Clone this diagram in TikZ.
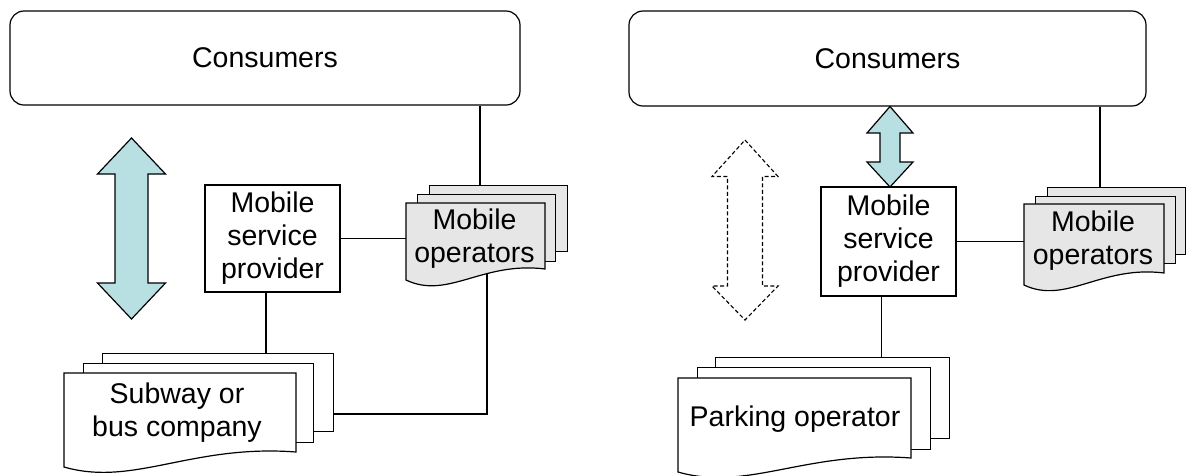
\documentclass[tikz,border=0pt]{standalone}
\usepackage{fontspec}
\setmainfont{Liberation Sans}
\usetikzlibrary{calc}
\pgfdeclarelayer{bg}
\pgfsetlayers{bg,main}
\definecolor{arrowfill}{HTML}{B8E0E3}
\definecolor{opfill}{HTML}{E6E6E6}
\newcommand\frontsheet[6]{%
 \pgfmathsetmacro\fsa{#1+0.55*(#3-#1)}%
 \pgfmathsetmacro\fsb{#1+0.3*(#3-#1)}%
 \pgfmathsetmacro\fsc{#4-8}%
 \pgfmathsetmacro\fsd{#5+20}%
 \filldraw[sheet, fill=#6] (#1,#2) -- (#3,#2) -- (#3,#4) .. controls (\fsa,\fsc) and (\fsb,\fsd) .. (#1,#5) -- cycle;}
\tikzset{
  sheet/.style={line width=1.2pt, draw=black, line join=miter},
  txt/.style={font=\fontsize{28.5pt}{33pt}\selectfont, align=center, inner sep=0pt},
  box/.style={sheet, txt, fill=white, rectangle},
  cons/.style={box, rounded corners=14pt},
  backsheet/.style={sheet, rectangle, inner sep=0pt, anchor=north west},
  link/.style={line width=1.2pt, draw=black},
  blockarrow/.style={line width=1.2pt, draw=black, fill=arrowfill, line join=miter},
  dasharrow/.style={line width=1.1pt, draw=black, fill=white, dash pattern=on 4pt off 2.5pt, line join=miter}
}
\begin{document}
\begin{tikzpicture}[x=1pt,y=-1pt]
\useasboundingbox (0,0) rectangle (1187,475);

% ---------------- left panel ----------------
\node[cons, minimum width=510pt, minimum height=94pt] (consL) at (265,58) {Consumers};
\node[box, minimum width=135pt, minimum height=107pt] (mspL) at (272.5,238.5) {Mobile\\service\\provider};

% mobile operators stack (left)
\node[backsheet, fill=opfill, minimum width=138pt, minimum height=66pt] (opsLb) at (429,185) {};
\node[backsheet, fill=opfill, minimum width=138pt, minimum height=67pt] (opsLm) at (417,194) {};
\frontsheet{406}{203}{545}{269}{280}{opfill}
\node[txt] (opsLf) at (474.5,239) {Mobile\\operators};

% subway stack
\node[backsheet, fill=white, minimum width=231pt, minimum height=78pt] (subLb) at (102,353) {};
\node[backsheet, fill=white, minimum width=230pt, minimum height=79pt] (subLm) at (83,363) {};
\frontsheet{64}{373}{296}{452}{467}{white}
\node[txt] (subLf) at (177,413) {Subway or\\bus company};

% double arrow (left)
\filldraw[blockarrow] (131.5,138) -- (165.5,174) -- (148,174) -- (148,283) -- (165.5,283)
  -- (131.5,319) -- (97.5,283) -- (115,283) -- (115,174) -- (97.5,174) -- cycle;

% connectors (left)
\begin{pgfonlayer}{bg}
\draw[link] (consL.south -| 480,0) -- (opsLb.north -| 480,0);
\draw[link] (mspL.east) -- (opsLm.west |- mspL.east);
\draw[link] (mspL.south -| 266,0) -- (subLb.north -| 266,0);
\draw[link] (opsLm.south -| 487,0) |- (subLb.east |- 0,414);
\end{pgfonlayer}

% ---------------- right panel ----------------
\node[cons, minimum width=517pt, minimum height=95pt] (consR) at (887.5,58.5) {Consumers};
\node[box, minimum width=135pt, minimum height=109pt] (mspR) at (888.5,241.5) {Mobile\\service\\provider};

% mobile operators stack (right)
\node[backsheet, fill=opfill, minimum width=138pt, minimum height=67pt] (opsRb) at (1047,187) {};
\node[backsheet, fill=opfill, minimum width=140pt, minimum height=67pt] (opsRm) at (1035,196) {};
\frontsheet{1024}{204}{1164}{273}{285}{opfill}
\node[txt] (opsRf) at (1093,241) {Mobile\\operators};

% parking stack
\node[backsheet, fill=white, minimum width=234pt, minimum height=81pt] (parkRb) at (715,357) {};
\node[backsheet, fill=white, minimum width=232.5pt, minimum height=82pt] (parkRm) at (697,367) {};
\frontsheet{678}{378}{911}{458}{472}{white}
\node[txt] (parkRf) at (795,419) {Parking operator};

% small double arrow between consumers and provider
\filldraw[blockarrow] (890,106.5) -- (913,133) -- (900,133) -- (900,162) -- (913,162)
  -- (890,187) -- (867,162) -- (880,162) -- (880,133) -- (867,133) -- cycle;

% dashed double arrow
\filldraw[dasharrow] (745,140) -- (778,176.5) -- (762.5,176.5) -- (762.5,286) -- (778,286)
  -- (745,320) -- (712,286) -- (727.5,286) -- (727.5,176.5) -- (712,176.5) -- cycle;

% connectors (right)
\begin{pgfonlayer}{bg}
\draw[link] (consR.south -| 1100,0) -- (opsRb.north -| 1100,0);
\draw[link] (mspR.east) -- (opsRm.west |- mspR.east);
\draw[link] (mspR.south -| 881.5,0) -- (parkRb.north -| 881.5,0);
\end{pgfonlayer}
\end{tikzpicture}
\end{document}
